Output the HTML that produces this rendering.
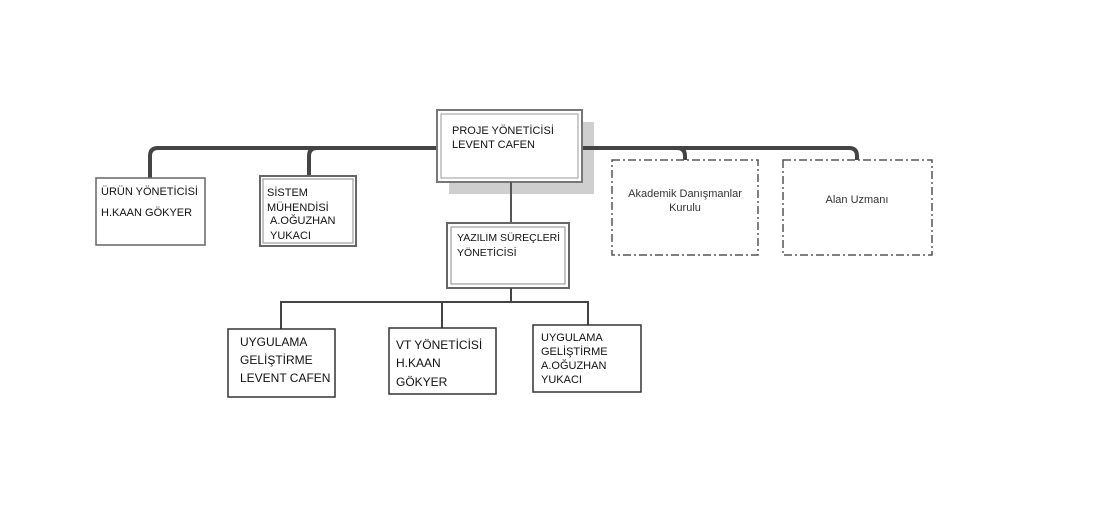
<!DOCTYPE html>
<html><head><meta charset="utf-8"><style>
body{margin:0;background:#fff;}
svg text{font-family:"Liberation Sans",sans-serif;fill:#111;}
</style></head><body>
<svg width="1104" height="520" viewBox="0 0 1104 520" xmlns="http://www.w3.org/2000/svg">
<rect width="1104" height="520" fill="#fff"/>
<rect x="449" y="122" width="145" height="72" fill="#cfcfcf"/>
<path d="M150 178 V156 Q150 148 158 148 H849 Q857 148 857 156 V160" fill="none" stroke="#444" stroke-width="4"/>
<path d="M309 178 V156 Q309 148 317 148" fill="none" stroke="#444" stroke-width="4"/>
<path d="M677 148 Q685 148 685 156 V160" fill="none" stroke="#444" stroke-width="4"/>
<rect x="437" y="110" width="145" height="72" fill="#fff" stroke="#777" stroke-width="2"/>
<rect x="441" y="114" width="137" height="64" fill="#fff" stroke="#999" stroke-width="1"/>
<text x="452" y="134" font-size="11">PROJE YÖNETİCİSİ</text>
<text x="452" y="148" font-size="11">LEVENT CAFEN</text>
<line x1="511" y1="182" x2="511" y2="223" stroke="#555" stroke-width="2"/>
<rect x="96" y="178" width="109" height="67" fill="#fff" stroke="#666" stroke-width="1.5"/>
<text x="101" y="195" font-size="11">ÜRÜN YÖNETİCİSİ</text>
<text x="101" y="216" font-size="11">H.KAAN GÖKYER</text>
<rect x="260" y="176" width="96" height="70" fill="#fff" stroke="#666" stroke-width="2"/>
<rect x="263" y="179" width="90" height="64" fill="#fff" stroke="#888" stroke-width="1"/>
<text x="267" y="196" font-size="11">SİSTEM</text>
<text x="267" y="211" font-size="11">MÜHENDİSİ</text>
<text x="270" y="224" font-size="11">A.OĞUZHAN</text>
<text x="270" y="239" font-size="11">YUKACI</text>
<rect x="447" y="223" width="122" height="65" fill="#fff" stroke="#666" stroke-width="2"/>
<rect x="451" y="227" width="114" height="57" fill="#fff" stroke="#888" stroke-width="1"/>
<text x="457" y="241" font-size="10.5">YAZILIM SÜREÇLERİ</text>
<text x="457" y="256" font-size="10.5">YÖNETİCİSİ</text>
<path d="M511 288 V302 M281 329 V302 H588 V325 M442 302 V328" fill="none" stroke="#444" stroke-width="2"/>
<rect x="228" y="329" width="107" height="68" fill="#fff" stroke="#333" stroke-width="1.5"/>
<text x="240" y="346" font-size="12">UYGULAMA</text>
<text x="240" y="364" font-size="12">GELİŞTİRME</text>
<text x="240" y="382" font-size="12">LEVENT CAFEN</text>
<rect x="389" y="328" width="107" height="66" fill="#fff" stroke="#333" stroke-width="1.5"/>
<text x="396" y="349" font-size="12">VT YÖNETİCİSİ</text>
<text x="396" y="367" font-size="12">H.KAAN</text>
<text x="396" y="386" font-size="12">GÖKYER</text>
<rect x="533" y="325" width="108" height="67" fill="#fff" stroke="#333" stroke-width="1.5"/>
<text x="541" y="341" font-size="11">UYGULAMA</text>
<text x="541" y="355" font-size="11">GELİŞTİRME</text>
<text x="541" y="369" font-size="11">A.OĞUZHAN</text>
<text x="541" y="383" font-size="11">YUKACI</text>
<rect x="612" y="160" width="146" height="95" fill="none" stroke="#555" stroke-width="1.5" stroke-dasharray="8,3,2,3"/>
<text x="685" y="197" font-size="11" text-anchor="middle" style="fill:#333">Akademik Danışmanlar</text>
<text x="685" y="211" font-size="11" text-anchor="middle" style="fill:#333">Kurulu</text>
<rect x="783" y="160" width="149" height="95" fill="none" stroke="#555" stroke-width="1.5" stroke-dasharray="8,3,2,3"/>
<text x="857" y="203" font-size="11" text-anchor="middle" style="fill:#333">Alan Uzmanı</text>
</svg>
</body></html>
